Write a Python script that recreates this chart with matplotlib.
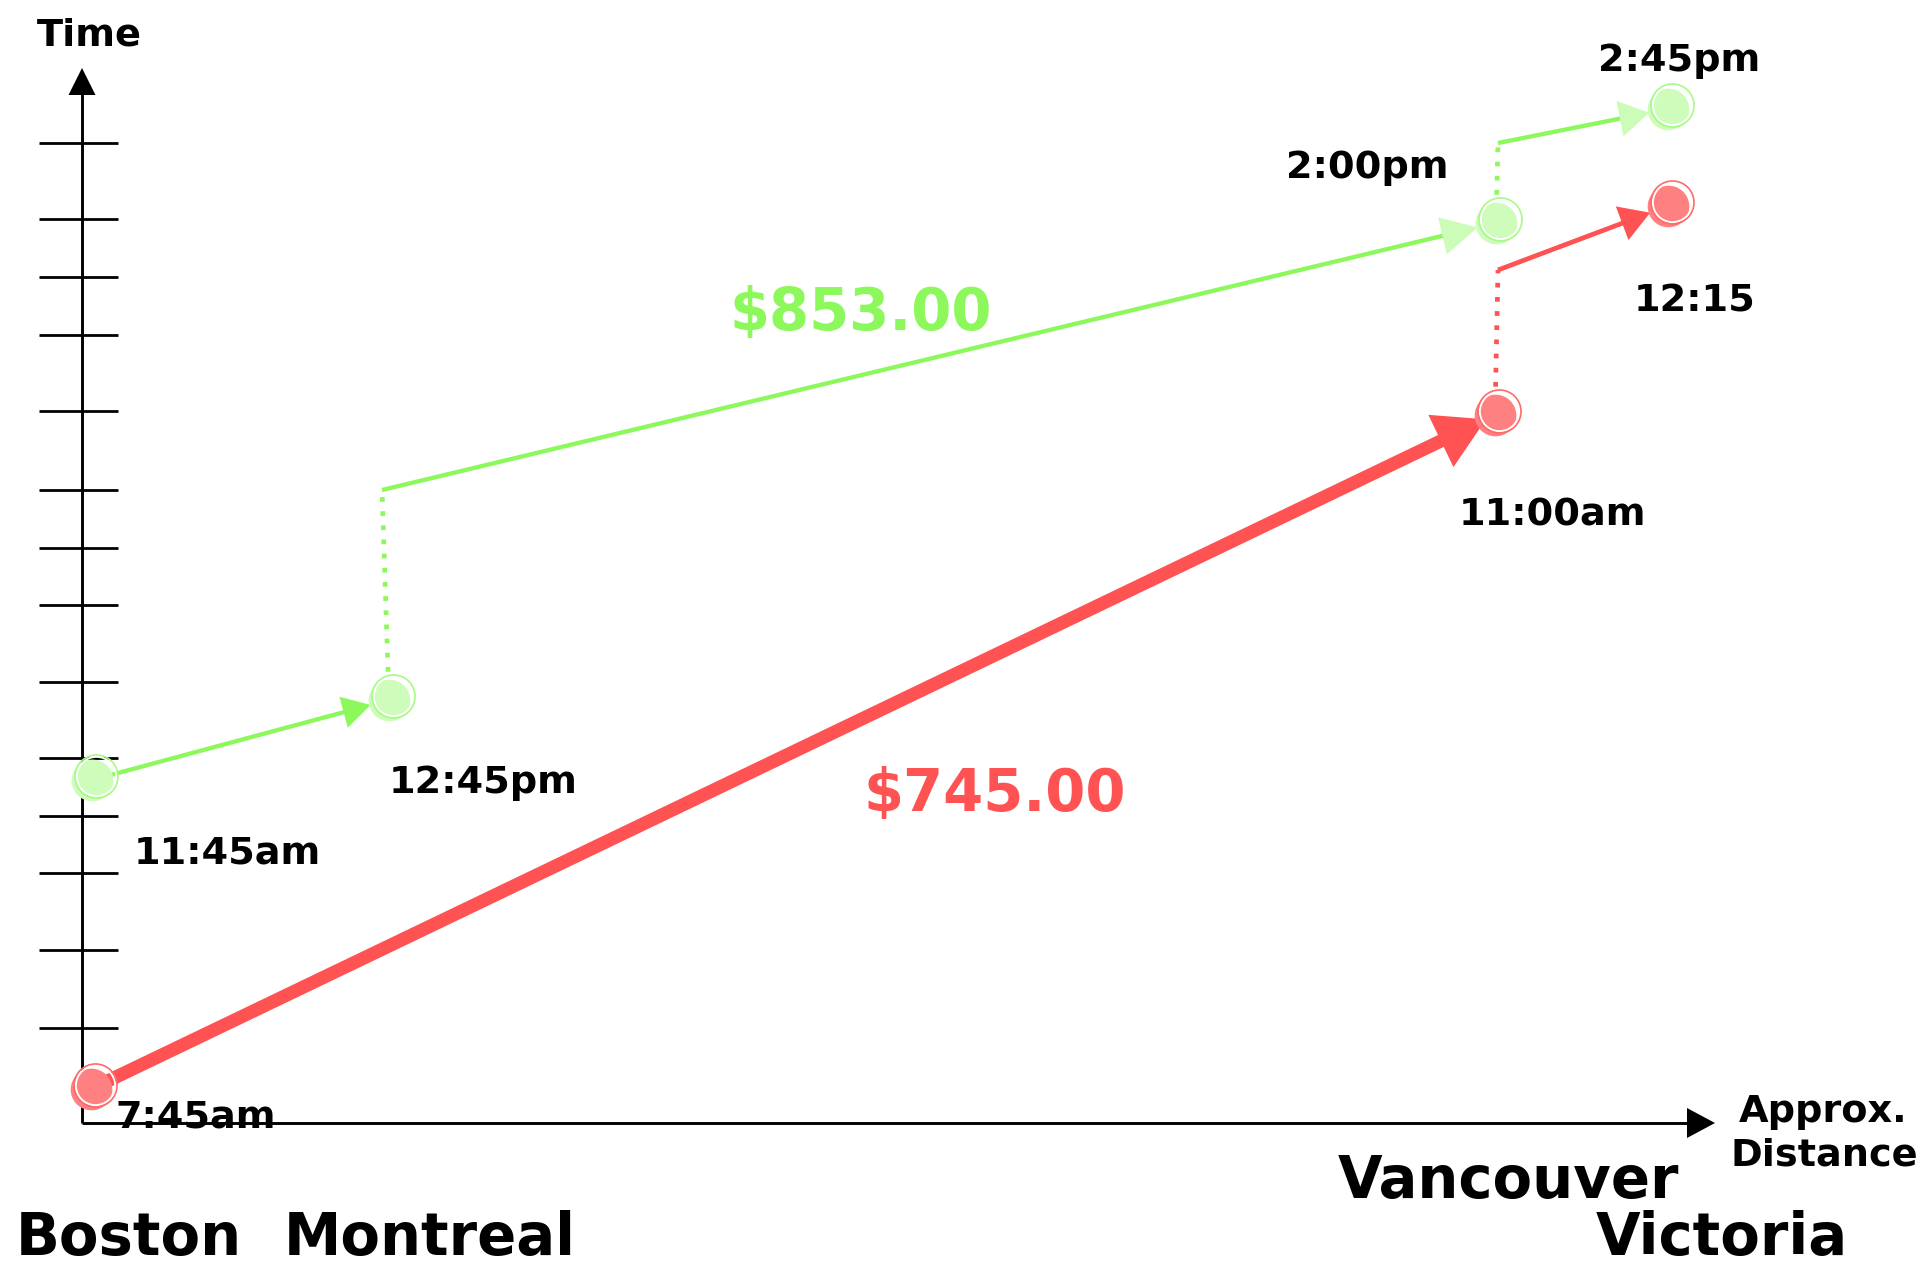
import matplotlib
matplotlib.use('Agg')
import matplotlib.pyplot as plt
import numpy as np

# ---------------- data (schematic units: x = approx. distance, y = time) ----------------
CITIES = ['Boston', 'Montreal', 'Vancouver', 'Victoria']

RED_X = [0.9, 141.3, 141.6, 158.6]
RED_Y = [3.4, 70.8, 85.3, 91.7]
RED_KIND = ['flight', 'wait', 'flight']          # segment between consecutive points
RED_TIMES = ['7:45am', '11:00am', '', '12:15']
RED_PRICE = '$745.00'

GREEN_X = [1.0, 30.7, 30.0, 141.4, 141.6, 158.6]
GREEN_Y = [34.3, 42.3, 63.3, 90.0, 98.0, 101.4]
GREEN_KIND = ['flight', 'wait', 'flight', 'wait', 'flight']
GREEN_TIMES = ['11:45am', '12:45pm', '', '2:00pm', '', '2:45pm']
GREEN_PRICE = '$853.00'

TIME_TICKS = [98.0, 90.4, 84.6, 78.8, 71.2, 63.3, 57.5, 51.8, 44.1, 36.5,
              30.7, 25.0, 17.3, 9.5]

# ---------------- style ----------------
PX = 0.1          # data units per pixel (both axes)
PT = 100 / 72.0   # pixels per point at dpi 100
RED = '#ff5252'
RED_FILL = '#ff8080'
GREEN = '#8cf85c'
GREEN_PALE = '#ccfdb8'
GREEN_FILL = '#cdfcbb'
BLACK = '#000000'

fig = plt.figure(figsize=(19.27, 12.72), dpi=100)
ax = fig.add_axes([0, 0, 1, 1])
ax.set_xlim(-8.2, 184.5)
ax.set_ylim(-14.9, 112.3)
ax.set_axis_off()


def head(start, tip, length_px, width_px, color, z=3):
    ms = 10.0
    ax.annotate('', xy=tip, xytext=start, xycoords='data', textcoords='data',
                arrowprops=dict(arrowstyle='-|>,head_length=%.3f,head_width=%.3f'
                                % (length_px / PT / ms, width_px / 2 / PT / ms),
                                mutation_scale=ms, facecolor=color, edgecolor='none',
                                linewidth=0, shrinkA=0, shrinkB=0),
                zorder=z)


def arrow(p0, p1, lw, color, hcolor, length_px, width_px, shrink_px, z=3):
    p0 = np.array(p0, float)
    p1 = np.array(p1, float)
    d = p1 - p0
    d = d / np.hypot(*d)
    tip = p1 - d * shrink_px * PX
    shaft_end = tip - d * length_px * 0.6 * PX
    ax.plot([p0[0], shaft_end[0]], [p0[1], shaft_end[1]], color=color, lw=lw,
            solid_capstyle='butt', zorder=z)
    head(p0, tip, length_px, width_px, hcolor, z)


# ---------------- axes ----------------
ax.plot([0, 0], [0, 105.5 - 2.0], color=BLACK, lw=2.1, solid_capstyle='butt', zorder=2)
head((0, 0), (0, 105.5), 27, 27, BLACK, 2)
ax.plot([0, 163.3 - 2.0], [0, 0], color=BLACK, lw=2.1, solid_capstyle='butt', zorder=2)
head((0, 0), (163.3, 0), 28, 30, BLACK, 2)
ax.hlines(TIME_TICKS, -4.3, 3.6, color=BLACK, lw=2.0, zorder=2)

# ---------------- routes ----------------
red_heads = [(50, 58, 10, RED, 9.5), None, (30, 36, 19, RED, 3.4)]
green_heads = [(28, 32, 19, GREEN, 3.1), None, (36, 38, 19, GREEN_PALE, 3.1), None,
               (30, 36, 19, GREEN_PALE, 3.1)]


def draw_route(xs, ys, kinds, heads, color):
    for i, kind in enumerate(kinds):
        p0 = (xs[i], ys[i])
        p1 = (xs[i + 1], ys[i + 1])
        if kind == 'wait':
            ax.plot([p0[0], p1[0]], [p0[1], p1[1]], color=color, lw=3.4,
                    linestyle=(0, (1, 2.0)), dash_capstyle='butt', zorder=3)
        else:
            L, W, s, hc, lw = heads[i]
            arrow(p0, p1, lw, color, hc, L, W, s)


draw_route(RED_X, RED_Y, RED_KIND, red_heads, RED)
draw_route(GREEN_X, GREEN_Y, GREEN_KIND, green_heads, GREEN)


def stops(xs, ys, labels, fill, ring):
    for x, y, lab in zip(xs, ys, labels):
        if not lab:
            continue
        ax.plot(x, y, 'o', ms=30, mfc=fill, mec='none', zorder=5)
        ax.plot(x + 0.4, y + 0.4, 'o', ms=28.3, mfc='none', mec='white', mew=1.4, zorder=6)
        ax.plot(x + 0.4, y + 0.4, 'o', ms=31, mfc='none', mec=ring, mew=1.2, zorder=6)


stops(RED_X, RED_Y, RED_TIMES, RED_FILL, '#ff6a6a')
stops(GREEN_X, GREEN_Y, GREEN_TIMES, GREEN_FILL, '#a6fb84')

# ---------------- text ----------------
SMALL = 27.5
BIG = 41.5
tkw = dict(fontfamily='DejaVu Sans', fontweight='bold', color=BLACK, va='baseline',
           ha='left', zorder=7)

ax.text(0.7, 107.8, 'Time', fontsize=SMALL, **{**tkw, 'ha': 'center'})

red_label_pos = [(3.3, -0.4), (137.7, 59.8), None, (155.2, 81.1)]
green_label_pos = [(5.2, 26.0), (30.7, 33.0), None, (120.4, 94.5), None, (151.6, 105.2)]
for lab, pos in zip(RED_TIMES, red_label_pos):
    if lab:
        ax.text(pos[0], pos[1], lab, fontsize=SMALL, **tkw)
for lab, pos in zip(GREEN_TIMES, green_label_pos):
    if lab:
        ax.text(pos[0], pos[1], lab, fontsize=SMALL, **tkw)

ax.text(64.7, 79.3, GREEN_PRICE, fontsize=BIG, **{**tkw, 'color': GREEN})
ax.text(78.2, 31.2, RED_PRICE, fontsize=BIG, **{**tkw, 'color': RED})

city_pos = [(-6.6, -13.2), (20.2, -13.2), (125.6, -7.5), (151.4, -13.2)]
for name, pos in zip(CITIES, city_pos):
    ax.text(pos[0], pos[1], name, fontsize=BIG, **tkw)

ax.text(174.1, 0.1, 'Approx.', fontsize=SMALL, **{**tkw, 'ha': 'center'})
ax.text(174.2, -4.2, 'Distance', fontsize=SMALL, **{**tkw, 'ha': 'center'})

fig.savefig('out.png', dpi=100, facecolor='white')
